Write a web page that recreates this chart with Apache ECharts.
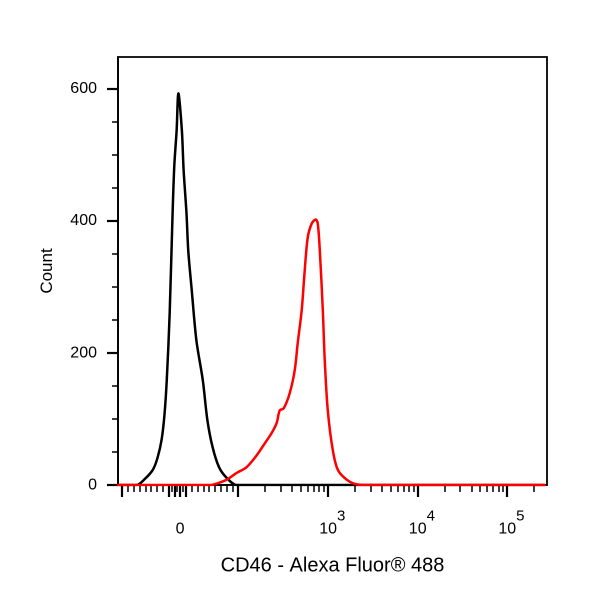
<!DOCTYPE html>
<html>
<head>
<meta charset="utf-8">
<script src="https://cdn.jsdelivr.net/npm/echarts@6/dist/echarts.min.js"></script>
<style>
html,body{margin:0;padding:0;background:#fff;}
#chart{width:600px;height:600px;}
</style>
</head>
<body>
<div id="chart"></div>
<script>
// Fluorescence values (CD46 - Alexa Fluor 488) and counts
const blackX = [-107, -75, -61, -47, -39, -32, -27, -23, -18, -13, -10, -6, -3, 3, 6, 11, 14, 20, 28, 39, 47, 56, 67, 80, 97, 150, 1000, 262144];
const blackY = [0, 0, 9, 23, 41, 68, 106, 159, 260, 411, 484, 537, 593, 537, 477, 411, 355, 295, 219, 159, 98, 57, 27, 11, 0, 0, 0, 0];

const redX = [-107, 0, 51, 59, 80, 97, 124, 161, 198, 237, 269, 291, 322, 376, 428, 462, 512, 553, 598, 663, 734, 773, 814, 880, 925, 1000, 1137, 1295, 1632, 2110, 3000, 262144];
const redY = [0, 0, 0, 1, 8, 18, 27, 45, 63, 79, 94, 113, 116, 139, 174, 215, 265, 325, 375, 396, 402, 396, 356, 265, 189, 113, 53, 23, 8, 1, 0, 0];

// Tick values
const xMajorTicks = [-100, -20, -10, 0, 10, 100, 1000, 10000, 100000];
const xMinorTicks = [-90, -80, -70, -60, -50, -40, -30, -15, -5, 5, 20, 30, 40, 50, 60, 70, 80, 90,
  200, 300, 400, 500, 600, 700, 800, 900,
  2000, 3000, 4000, 5000, 6000, 7000, 8000, 9000,
  20000, 30000, 40000, 50000, 60000, 70000, 80000, 90000, 200000];
const xLabelValues = [0, 1000, 10000, 100000];
const yMajorTicks = [0, 200, 400, 600];
const yMinorTicks = [50, 100, 150, 250, 300, 350, 450, 500, 550];

// biexponential-like display transform (linear near zero, log above 100)
const LIN = 0.58 / 89.5;
function T(v) { return v >= 100 ? Math.log10(v) : 2 + (v - 100) * LIN; }

const xMin = T(-107);
const xMax = 5.447;

function pairs(xs, ys) { return xs.map((x, i) => [T(x), ys[i]]); }

const chart = echarts.init(document.getElementById('chart'), null, {renderer: 'canvas', devicePixelRatio: 2});
const font = 'Liberation Sans, Arial, Helvetica, sans-serif';

chart.setOption({
  backgroundColor: '#fff',
  animation: false,
  grid: {left: 118, right: 53, top: 57, bottom: 115, show: true, borderColor: '#000', borderWidth: 1.8, backgroundColor: 'transparent'},
  xAxis: [
    {
      type: 'value', min: xMin, max: xMax,
      name: 'CD46 - Alexa Fluor® 488', nameLocation: 'middle', nameGap: 71,
      nameTextStyle: {fontSize: 20, color: '#000', fontFamily: font},
      axisLine: {show: true, lineStyle: {color: '#000', width: 1.8}},
      axisTick: {show: true, length: 12, lineStyle: {color: '#000', width: 2.2}, customValues: xMajorTicks.map(T)},
      splitLine: {show: false},
      axisLabel: {
        show: true, margin: 24, customValues: xLabelValues.map(T),
        formatter: function (val) {
          let best = xLabelValues[0], d = Infinity;
          xLabelValues.forEach(v => { const dd = Math.abs(T(v) - val); if (dd < d) { d = dd; best = v; } });
          if (best === 0) return '{z|0}';
          return '{b|10}{s|' + Math.round(Math.log10(best)) + '}';
        },
        rich: {
          z: {fontSize: 16, color: '#000', fontFamily: font, padding: [12, 0, 0, 0], verticalAlign: 'bottom'},
          b: {fontSize: 16, color: '#000', fontFamily: font, padding: [12, 0, 0, 9], verticalAlign: 'bottom'},
          s: {fontSize: 15, color: '#000', fontFamily: font, verticalAlign: 'top', lineHeight: 15}
        }
      }
    },
    {
      type: 'value', min: xMin, max: xMax, position: 'bottom',
      axisLine: {show: false},
      axisTick: {show: true, length: 7, lineStyle: {color: '#000', width: 1.5}, customValues: xMinorTicks.map(T)},
      axisLabel: {show: false},
      splitLine: {show: false}
    }
  ],
  yAxis: [
    {
      type: 'value', min: 0, max: 648,
      name: 'Count', nameLocation: 'middle', nameGap: 62,
      nameTextStyle: {fontSize: 17, color: '#000', fontFamily: font},
      axisLine: {show: true, lineStyle: {color: '#000', width: 1.8}},
      axisTick: {show: true, length: 11, lineStyle: {color: '#000', width: 2.2}, customValues: yMajorTicks},
      axisLabel: {show: true, margin: 21, fontSize: 16, color: '#000', fontFamily: font, customValues: yMajorTicks},
      splitLine: {show: false}
    },
    {
      type: 'value', min: 0, max: 648, position: 'left',
      axisLine: {show: false},
      axisTick: {show: true, length: 6, lineStyle: {color: '#000', width: 1.5}, customValues: yMinorTicks},
      axisLabel: {show: false},
      splitLine: {show: false}
    }
  ],
  series: [
    {
      name: 'control', type: 'line', xAxisIndex: 0, yAxisIndex: 0,
      data: pairs(blackX, blackY), showSymbol: false, smooth: 0.3,
      lineStyle: {color: '#000', width: 2.5, join: 'round', cap: 'round'}, itemStyle: {color: '#000'}
    },
    {
      name: 'CD46', type: 'line', xAxisIndex: 0, yAxisIndex: 0,
      data: pairs(redX, redY), showSymbol: false, smooth: 0.3,
      lineStyle: {color: '#ff0000', width: 2.5, join: 'round', cap: 'round'}, itemStyle: {color: '#ff0000'}
    }
  ]
});
</script>
</body>
</html>
